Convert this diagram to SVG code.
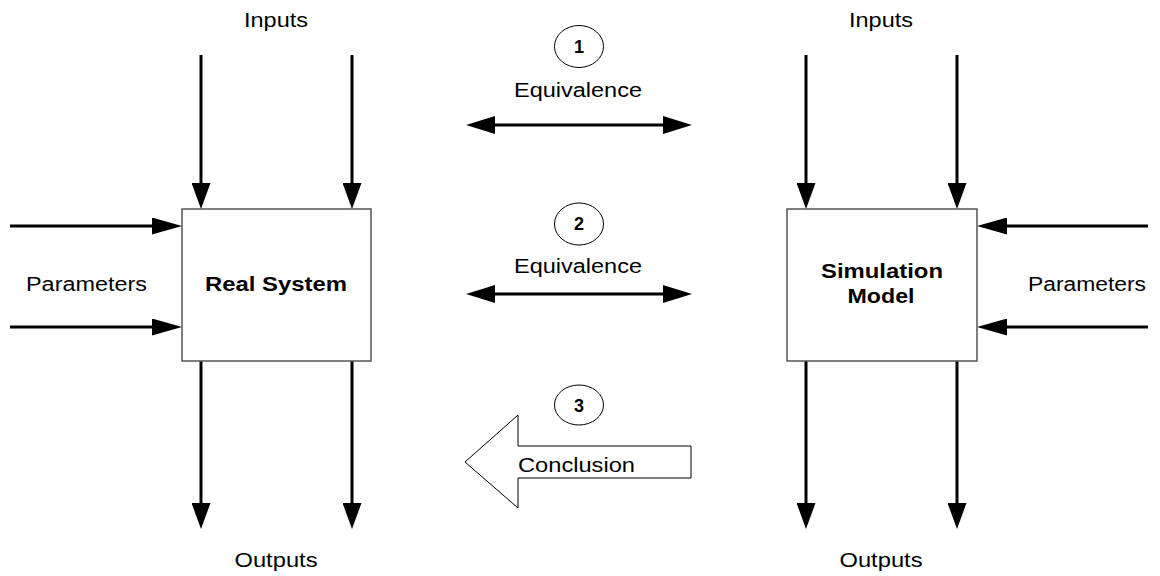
<svg xmlns="http://www.w3.org/2000/svg" width="1160" height="576" viewBox="0 0 1160 576">
  <style>
    text { font-family: "Liberation Sans", Arial, sans-serif; fill: #000; }
    .lbl { font-size: 20px; }
    .title { font-size: 21px; font-weight: bold; }
    .num { font-size: 18px; font-weight: bold; }
    .box { fill: #fff; stroke: #555; stroke-width: 1.5; }
    .wire { stroke: #000; stroke-width: 3; fill: none; }
    .vin { marker-end: url(#headV); }
    .hin { marker-end: url(#headH); }
    .eq { marker-start: url(#headE); marker-end: url(#headE); }
    .badge { fill: #fff; stroke: #000; stroke-width: 1; }
  </style>
  <defs>
    <marker id="headV" markerUnits="userSpaceOnUse" markerWidth="26" markerHeight="19" refX="6" refY="9.5" orient="auto">
      <path d="M0,0 L26,9.5 L0,19 Z" fill="#000"/>
    </marker>
    <marker id="headH" markerUnits="userSpaceOnUse" markerWidth="30" markerHeight="17" refX="10" refY="8.5" orient="auto">
      <path d="M0,0 L30,8.5 L0,17 Z" fill="#000"/>
    </marker>
    <marker id="headE" markerUnits="userSpaceOnUse" markerWidth="29" markerHeight="18" refX="9" refY="9" orient="auto-start-reverse">
      <path d="M0,0 L29,9 L0,18 Z" fill="#000"/>
    </marker>
  </defs>

  <!-- connectors -->
  <g id="connectors">
    <!-- real system inputs / outputs -->
    <line class="wire vin" x1="201" y1="55" x2="201" y2="189"/>
    <line class="wire vin" x1="352" y1="55" x2="352" y2="189"/>
    <line class="wire vin" x1="201" y1="361" x2="201" y2="509"/>
    <line class="wire vin" x1="352" y1="361" x2="352" y2="509"/>
    <line class="wire hin" x1="10" y1="226" x2="162" y2="226"/>
    <line class="wire hin" x1="10" y1="327" x2="162" y2="327"/>
    <!-- simulation model inputs / outputs -->
    <line class="wire vin" x1="806" y1="55" x2="806" y2="189"/>
    <line class="wire vin" x1="957" y1="55" x2="957" y2="189"/>
    <line class="wire vin" x1="806" y1="361" x2="806" y2="509"/>
    <line class="wire vin" x1="957" y1="361" x2="957" y2="509"/>
    <line class="wire hin" x1="1148" y1="226" x2="997" y2="226"/>
    <line class="wire hin" x1="1148" y1="327" x2="997" y2="327"/>
    <!-- equivalence links -->
    <line class="wire eq" x1="486" y1="125" x2="672" y2="125"/>
    <line class="wire eq" x1="486" y1="294" x2="672" y2="294"/>
  </g>

  <!-- real system -->
  <g id="real-system">
    <rect class="box" x="182" y="209" width="189" height="152"/>
    <text class="title" x="205" y="291" textLength="142" lengthAdjust="spacingAndGlyphs">Real System</text>
  </g>

  <!-- simulation model -->
  <g id="simulation-model">
    <rect class="box" x="787" y="209" width="190" height="152"/>
    <text class="title" x="882" y="278" text-anchor="middle" textLength="122" lengthAdjust="spacingAndGlyphs">Simulation</text>
    <text class="title" x="881" y="303" text-anchor="middle" textLength="67" lengthAdjust="spacingAndGlyphs">Model</text>
  </g>

  <!-- side labels -->
  <g id="labels-left">
    <text class="lbl" x="276" y="27" text-anchor="middle" textLength="64" lengthAdjust="spacingAndGlyphs">Inputs</text>
    <text class="lbl" x="276" y="566.5" text-anchor="middle" textLength="83" lengthAdjust="spacingAndGlyphs">Outputs</text>
    <text class="lbl" x="26" y="290.5" textLength="121" lengthAdjust="spacingAndGlyphs">Parameters</text>
  </g>
  <g id="labels-right">
    <text class="lbl" x="881" y="27" text-anchor="middle" textLength="64" lengthAdjust="spacingAndGlyphs">Inputs</text>
    <text class="lbl" x="881" y="566.5" text-anchor="middle" textLength="83" lengthAdjust="spacingAndGlyphs">Outputs</text>
    <text class="lbl" x="1028" y="290.5" textLength="118" lengthAdjust="spacingAndGlyphs">Parameters</text>
  </g>

  <!-- step 1 -->
  <g id="step-1">
    <ellipse class="badge" cx="579" cy="46.5" rx="24.5" ry="21"/>
    <text class="num" x="579" y="52.5" text-anchor="middle">1</text>
    <text class="lbl" x="514" y="97" textLength="128" lengthAdjust="spacingAndGlyphs">Equivalence</text>
  </g>

  <!-- step 2 -->
  <g id="step-2">
    <ellipse class="badge" cx="579" cy="224" rx="24.5" ry="21"/>
    <text class="num" x="579" y="230" text-anchor="middle">2</text>
    <text class="lbl" x="514" y="272.5" textLength="128" lengthAdjust="spacingAndGlyphs">Equivalence</text>
  </g>

  <!-- step 3 -->
  <g id="step-3">
    <ellipse class="badge" cx="579" cy="405" rx="24.5" ry="20"/>
    <text class="num" x="579" y="412" text-anchor="middle">3</text>
    <polygon points="465,462 518,415 518,446 691,446 691,478 518,478 518,508" fill="#fff" stroke="#000" stroke-width="1"/>
    <text class="lbl" x="518" y="471.5" textLength="117" lengthAdjust="spacingAndGlyphs">Conclusion</text>
  </g>
</svg>
